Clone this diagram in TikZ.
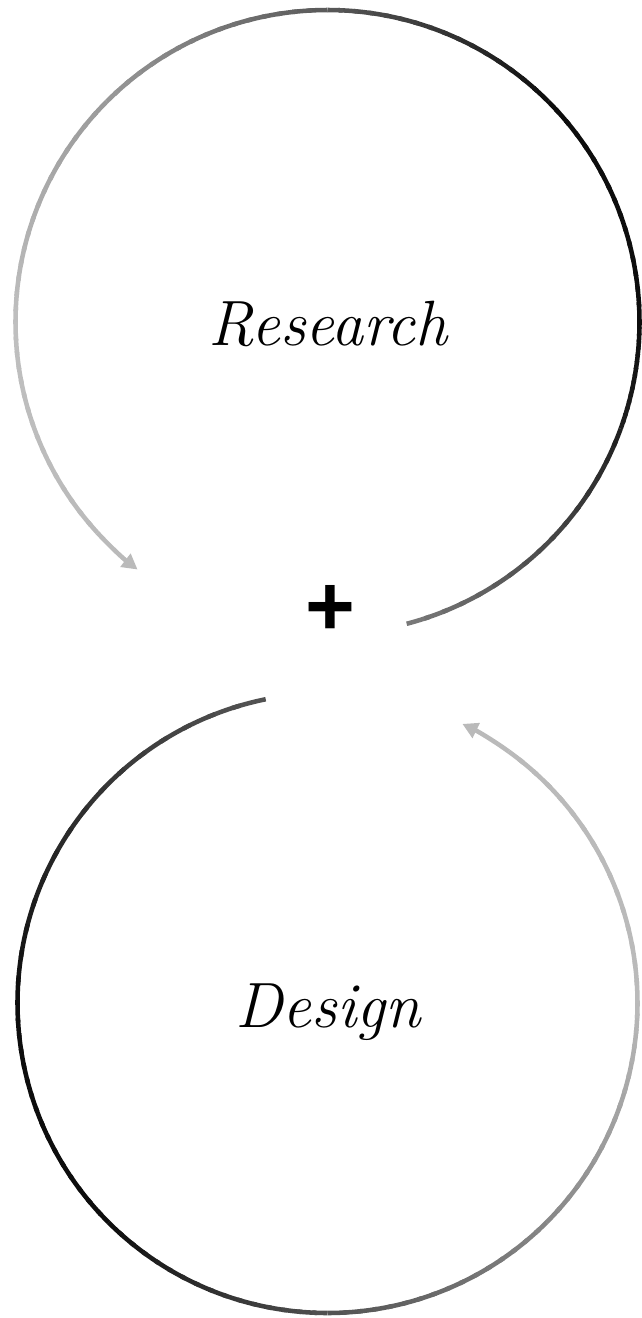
\documentclass[tikz,border=0pt]{standalone}
\usepackage{fontspec}
\newfontfamily\plusfont{Liberation Sans}
\usetikzlibrary{arrows.meta}

\tikzset{
  ring/.style={line width=3.4pt, line cap=butt},
  ringtip/.style={ring, -{Triangle[length=11.5pt, width=12pt]}},
  word/.style={font=\fontsize{48}{54}\selectfont\itshape, inner sep=0pt, anchor=base},
  plussign/.style={font=\fontsize{64}{66}\selectfont\plusfont\bfseries, inner sep=0pt}
}

% arc cut in short pieces, grey level going from #6 to #7 (percent of black)
\newcommand{\fadearc}[7]{%
  \foreach \k in {0,...,15}{%
    \pgfmathsetmacro{\angA}{#4+(#5-#4)*\k/16}%
    \pgfmathsetmacro{\angB}{#4+(#5-#4)*min(\k+1.3,16)/16}%
    \pgfmathsetmacro{\fadepct}{#6+(#7-#6)*(\k+0.5)/16}%
    \draw[ring, black!\fadepct!white] (#1,#2) ++(\angA:#3) arc[start angle=\angA, end angle=\angB, radius=#3];
  }}

\begin{document}
\begin{tikzpicture}[x=0.75pt,y=0.75pt,yscale=-1,xscale=1]
\useasboundingbox (0,0) rectangle (642,1318);

%Arc: upper ring
\fadearc{327.5}{322}{312}{75.3}{20}{52}{88}
\fadearc{327.5}{322}{312}{20}{0}{88}{95}
\fadearc{327.5}{322}{312}{0}{-45}{95}{95}
\fadearc{327.5}{322}{312}{-45}{-90}{95}{65}
\fadearc{327.5}{322}{312}{-90}{-135}{65}{40}
\fadearc{327.5}{322}{312}{-135}{-180}{40}{25}
\fadearc{327.5}{322}{312}{-180}{-222.5}{25}{27}
\draw[ringtip, black!27!white] (327.5,322) ++(-222.5:312) arc[start angle=-222.5, end angle=-232.5, radius=312];

%Arc: lower ring
\fadearc{327.5}{1003}{310}{-101.5}{-180}{67}{95}
\fadearc{327.5}{1003}{310}{-180}{-225}{95}{95}
\fadearc{327.5}{1003}{310}{-225}{-270}{95}{68}
\fadearc{327.5}{1003}{310}{-270}{-315}{68}{47}
\fadearc{327.5}{1003}{310}{-315}{-360}{47}{27}
\fadearc{327.5}{1003}{310}{-360}{-414.2}{27}{27}
\draw[ringtip, black!27!white] (327.5,1003) ++(-414.2:310) arc[start angle=-414.2, end angle=-424.2, radius=310];

% Text Node
\node[word] (research) at (328,345) {Research};
% Text Node
\node[word] (design) at (328,1027) {Design};
% Text Node
\node[plussign] (plus) at (330,610) {+};

\end{tikzpicture}
\end{document}
